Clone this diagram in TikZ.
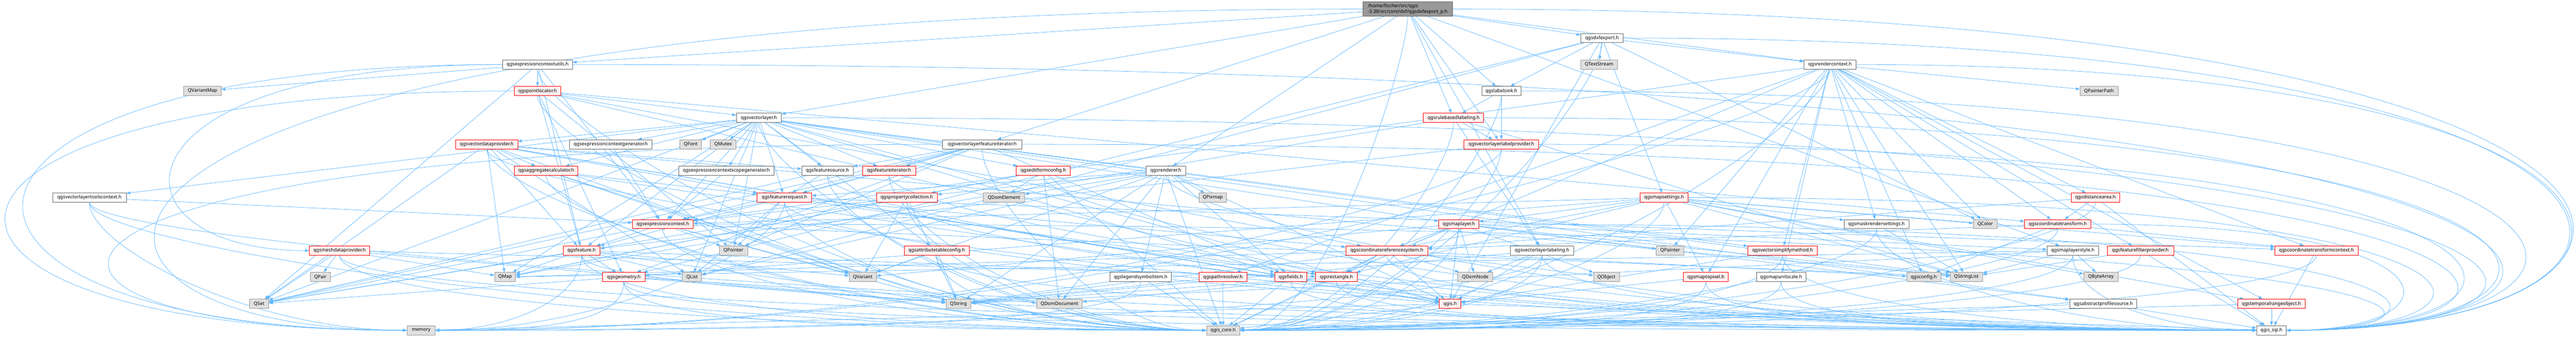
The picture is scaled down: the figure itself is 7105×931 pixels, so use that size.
\documentclass[tikz,border=0pt]{standalone}
\usepackage{fontspec}
\setmainfont{Noto Sans}
\usetikzlibrary{arrows.meta,backgrounds,calc}

\definecolor{depblue}{HTML}{63B8FF}
\definecolor{fileline}{HTML}{666666}
\definecolor{truncfill}{HTML}{FFF0F0}
\definecolor{extfill}{HTML}{E0E0E0}
\definecolor{extline}{HTML}{999999}
\definecolor{rootfill}{HTML}{999999}

\tikzset{
  hdr/.style={draw=fileline, fill=white, line width=1.1pt, minimum height=25.5pt,
    inner sep=2pt, font=\fontsize{13}{15}\selectfont},
  trunc/.style={hdr, draw=red, fill=truncfill},
  ext/.style={hdr, draw=extline, fill=extfill},
  root/.style={hdr, fill=rootfill, minimum height=40pt, align=left},
  dep/.style={draw=depblue, line width=1.1pt, -{Triangle[length=11pt,width=8pt]}},
  band/.style={to path={.. controls ([yshift=-120pt]\tikztostart.south) and ($(\tikztotarget.#1)!0.5!(\tikztotarget.#1 -| \tikztostart)$) .. (\tikztotarget.#1) \tikztonodes}},
  sweep/.style={to path={.. controls (\tikztostart -| #1,0) and (\tikztotarget -| #1,0) .. (\tikztotarget) \tikztonodes}}
}

\begin{document}
\begin{tikzpicture}[x=1pt,y=-1pt] % pixel grid of the reference
\useasboundingbox (0,0) rectangle (7105,931);

% row 0 - 2
\node[root, minimum width=247pt] (dxfp) at (3882.5,25) {/home/fischer/src/qgis\\-3.38/src/core/dxf/qgsdxfexport\_p.h};
\node[hdr, minimum width=117pt] (dxf) at (4418.5,105) {qgsdxfexport.h};
\node[hdr, minimum width=193pt] (ecu) at (1482.5,178) {qgsexpressioncontextutils.h};
\node[ext, minimum width=101pt] (qtextstream) at (4410.5,178) {QTextStream};
\node[hdr, minimum width=143pt] (rctx) at (5047.5,178) {qgsrendercontext.h};

% row 3 - 4
\node[ext, minimum width=103pt] (qvariantmap) at (558.5,251) {QVariantMap};
\node[trunc, minimum width=127pt] (ploc) at (1482.5,251) {qgspointlocator.h};
\node[hdr, minimum width=108pt] (lsink) at (4141,251) {qgslabelsink.h};
\node[ext, minimum width=105pt] (qpainterpath) at (5789.5,251) {QPainterPath};
\node[hdr, minimum width=124pt] (vl) at (2093,325) {qgsvectorlayer.h};
\node[trunc, minimum width=166pt] (rbl) at (4009,325) {qgsrulebasedlabeling.h};

% row 5
\node[trunc, minimum width=171pt] (vdp) at (1342.5,398) {qgsvectordataprovider.h};
\node[hdr, minimum width=227pt] (ecg) at (1684.5,398) {qgsexpressioncontextgenerator.h};
\node[ext, minimum width=60pt] (qfont) at (1905,398) {QFont};
\node[ext, minimum width=71pt] (qmutex) at (1994.5,398) {QMutex};
\node[hdr, minimum width=218pt] (vlfi) at (2709,398) {qgsvectorlayerfeatureiterator.h};
\node[trunc, minimum width=206pt] (vllp) at (4141,398) {qgsvectorlayerlabelprovider.h};

% row 6
\node[trunc, minimum width=175pt] (aggc) at (1506.5,471) {qgsaggregatecalculator.h};
\node[hdr, minimum width=263pt] (ecsg) at (2003.5,471) {qgsexpressioncontextscopegenerator.h};
\node[hdr, minimum width=142pt] (fsrc) at (2282,471) {qgsfeaturesource.h};
\node[trunc, minimum width=146pt] (fit) at (2452,471) {qgsfeatureiterator.h};
\node[trunc, minimum width=149pt] (efc) at (2877.5,471) {qgseditformconfig.h};
\node[hdr, minimum width=109pt] (rend) at (3215.5,471) {qgsrenderer.h};

% row 7
\node[hdr, minimum width=203pt] (vltc) at (246.5,545) {qgsvectorlayertoolscontext.h};
\node[trunc, minimum width=151pt] (freq) at (2163.5,545) {qgsfeaturerequest.h};
\node[trunc, minimum width=168pt] (pcol) at (2501,545) {qgspropertycollection.h};
\node[ext, minimum width=114pt] (qdomelement) at (2769,545) {QDomElement};
\node[ext, minimum width=76pt] (qpixmap) at (3345,545) {QPixmap};
\node[trunc, minimum width=131pt] (mset) at (4589.5,545) {qgsmapsettings.h};
\node[trunc, minimum width=133pt] (darea) at (5779.5,545) {qgsdistancearea.h};

% row 8
\node[trunc, minimum width=168pt] (ectx) at (1828,618) {qgsexpressioncontext.h};
\node[trunc, minimum width=111pt] (mlay) at (4023.5,618) {qgsmaplayer.h};
\node[hdr, minimum width=179pt] (mrs) at (5175.5,618) {qgsmaskrendersettings.h};
\node[ext, minimum width=65pt] (qcolor) at (5475.5,618) {QColor};
\node[trunc, minimum width=183pt] (ctr) at (5675.5,618) {qgscoordinatetransform.h};

% row 9
\node[trunc, minimum width=167pt] (mdp) at (936.5,691) {qgsmeshdataprovider.h};
\node[trunc, minimum width=102pt] (feat) at (1604,691) {qgsfeature.h};
\node[ext, minimum width=78pt] (qpointer) at (2023,691) {QPointer};
\node[trunc, minimum width=179pt] (atc) at (2583.5,691) {qgsattributetableconfig.h};
\node[trunc, minimum width=226pt] (crs) at (3825,691) {qgscoordinatereferencesystem.h};
\node[hdr, minimum width=174pt] (vllab) at (4253,691) {qgsvectorlayerlabeling.h};
\node[ext, minimum width=77pt] (qpainter) at (4606.5,691) {QPainter};
\node[trunc, minimum width=191pt] (vsm) at (4916.5,691) {qgsvectorsimplifymethod.h};
\node[hdr, minimum width=142pt] (mls) at (5717,691) {qgsmaplayerstyle.h};
\node[trunc, minimum width=183pt] (ffp) at (5903.5,691) {qgsfeaturefilterprovider.h};
\node[trunc, minimum width=230pt] (ctc) at (6389,691) {qgscoordinatetransformcontext.h};

% row 10
\node[ext, minimum width=55pt] (qpair) at (883.5,764) {QPair};
\node[ext, minimum width=58pt] (qmap) at (1393,764) {QMap};
\node[trunc, minimum width=117pt] (geom) at (1720.5,764) {qgsgeometry.h};
\node[ext, minimum width=53pt] (qlist) at (1908.5,764) {QList};
\node[ext, minimum width=75pt] (qvariant) at (2379.5,764) {QVariant};
\node[hdr, minimum width=170pt] (lsi) at (3146,764) {qgslegendsymbolitem.h};
\node[trunc, minimum width=132pt] (pres) at (3373,764) {qgspathresolver.h};
\node[trunc, minimum width=88pt] (fields) at (3560,764) {qgsfields.h};
\node[trunc, minimum width=114pt] (rect) at (3686,764) {qgsrectangle.h};
\node[ext, minimum width=96pt] (qdomnode) at (4069,764) {QDomNode};
\node[ext, minimum width=71pt] (qobject) at (4430.5,764) {QObject};
\node[trunc, minimum width=124pt] (m2p) at (4705,764) {qgsmaptopixel.h};
\node[hdr, minimum width=137pt] (mus) at (4912.5,764) {qgsmapunitscale.h};
\node[ext, minimum width=94pt] (qgsconfig) at (5306,764) {qgsconfig.h};
\node[ext, minimum width=89pt] (qstringlist) at (5423.5,764) {QStringList};
\node[ext, minimum width=95pt] (qbytearray) at (5794.5,764) {QByteArray};

% row 11 - 12
\node[ext, minimum width=53pt] (qset) at (714.5,838) {QSet};
\node[ext, minimum width=69pt] (qstring) at (2643.5,838) {QString};
\node[ext, minimum width=126pt] (qdomdocument) at (2922,838) {QDomDocument};
\node[trunc, minimum width=59pt] (qgish) at (3999.5,838) {qgis.h};
\node[hdr, minimum width=186pt] (aps) at (5801,838) {qgsabstractprofilesource.h};
\node[trunc, minimum width=186pt] (tro) at (6265,838) {qgstemporalrangeobject.h};
\node[ext, minimum width=77pt] (memory) at (1161.5,911) {memory};
\node[ext, minimum width=91pt] (qgiscore) at (3373.5,911) {qgis\_core.h};
\node[hdr, minimum width=82pt] (qgissip) at (6265,911) {qgis\_sip.h};

\begin{pgfonlayer}{background}
\begin{scope}[every edge/.style=dep]
\path (dxfp) edge (dxf) edge (ecu) edge (rctx) edge (rend) edge (vl) edge (vlfi) edge (vllab)
  edge (vllp) edge (lsink) edge (rbl) edge (mls) edge[sweep=-60] (memory) edge[sweep=7600] (qgissip)
  edge[band=east] (qgiscore);
\path (dxf) edge (qtextstream) edge (lsink) edge (mset) edge (qgish) edge (geom) edge (rctx)
  edge (qcolor) edge[band=east] (qgiscore) edge[sweep=7550] (qgissip) edge (qlist);
\path (ecu) edge (qvariantmap) edge (ploc) edge[sweep=274] (mdp) edge (ectx) edge (feat) edge (qset)
  edge[band=west] (qgiscore) edge[sweep=7450] (qgissip) edge[sweep=-330] (memory);
\path (rctx) edge (qcolor) edge (qpainter) edge (qpainterpath) edge[band=east] (memory) edge (ctr) edge (ectx)
  edge (ffp) edge (m2p) edge (mus) edge (rect) edge (vsm) edge (darea) edge (ctc) edge (pres)
  edge (tro) edge (mrs) edge (qstringlist) edge (qgsconfig) edge[band=east] (qgiscore) edge[sweep=7500] (qgissip);
\path (ploc) edge (qpointer) edge (vl) edge (feat) edge (geom) edge (crs) edge (ctr) edge (rect)
  edge[band=west] (qgiscore) edge[sweep=-400] (memory);
\path (lsink) edge (rbl) edge (vllp) edge[band=east] (qgiscore) edge[sweep=7400] (qgissip);
\path (rbl) edge (vllp) edge (vllab) edge[band=east] (qgiscore) edge[sweep=7300] (qgissip) edge (qstringlist) edge (qmap);
\path (vl) edge[band=west] (qgiscore) edge[sweep=7350] (qgissip) edge (qmap) edge (qset) edge (qlist) edge (qstringlist)
  edge (qfont) edge (qmutex) edge (qgish) edge (mlay) edge (feat) edge (freq) edge (fsrc)
  edge (fields) edge (vdp) edge (vsm) edge (efc) edge (atc) edge (aggc) edge (fit) edge (ecg)
  edge (ecsg) edge (ectx) edge (vltc) edge (aps) edge (qpointer);
\path (vdp) edge (qmap) edge (qset) edge (qlist) edge (aggc) edge (freq) edge (fsrc) edge (feat)
  edge (fields) edge[band=west] (qgiscore) edge[band=west] (qgissip) edge (qstringlist) edge (qvariant) edge (qgish);
\path (ecg) edge (ectx);
\path (ecsg) edge (ectx);
\path (vlfi) edge (fit) edge (fsrc) edge (fields) edge (ectx) edge (freq) edge (geom)
  edge[band=west] (qgiscore) edge[sweep=7200] (qgissip) edge (qset) edge (qpointer) edge[sweep=-150] (memory);
\path (vllp) edge[band=east] (qgiscore) edge[sweep=7150] (qgissip) edge (feat) edge[band=east] (memory);
\path (aggc) edge[band=west] (qgiscore) edge (freq) edge (qvariant) edge (qstring) edge (qgish);
\path (fsrc) edge (freq) edge[band=west] (qgiscore) edge[band=west] (qgissip) edge (qset);
\path (fit) edge (freq) edge[band=west] (qgiscore) edge[band=west] (qgissip);
\path (efc) edge (pcol) edge (qdomelement) edge (qdomdocument) edge (qmap) edge (qgiscore) edge[band=west] (qgissip);
\path (rend) edge (qgiscore) edge[band=west] (qgissip) edge (qstring) edge (qdomdocument) edge (lsi) edge (fields)
  edge (qpixmap) edge (pcol) edge (freq) edge (qlist) edge (qvariant) edge (qdomelement) edge (qgish);
\path (vltc) edge[band=west] (memory) edge[band=west] (qgiscore) edge[band=west] (qgissip) edge (ectx);
\path (freq) edge (qpointer) edge (qlist) edge (feat) edge (rect) edge (ectx) edge (ctc) edge (crs)
  edge[band=east] (memory) edge[band=west] (qgiscore) edge[band=west] (qgissip);
\path (pcol) edge (qstring) edge (qset) edge (ectx) edge (qvariant) edge[band=west] (qgiscore) edge[band=west] (qgissip) edge (qmap);
\path (mset) edge (mlay) edge (crs) edge (m2p) edge (rect) edge (ctc) edge (tro) edge (mrs) edge (qcolor)
  edge (qstringlist) edge (qbytearray) edge[band=east] (qgiscore) edge[sweep=7000] (qgissip) edge (ectx) edge (geom);
\path (darea) edge (ctr) edge (crs) edge[band=east] (qgiscore) edge (qgissip);
\path (ectx) edge (feat) edge (qpointer) edge (qset) edge (qstringlist) edge (qvariant) edge (qstring)
  edge[band=west] (qgiscore) edge[sweep=6900] (qgissip);
\path (mlay) edge (qdomnode) edge (qobject) edge (qpainter) edge (qgish) edge (rect) edge (crs)
  edge (mls) edge (aps) edge[band=east] (qgiscore) edge[sweep=6850] (qgissip) edge (qvariant) edge (qstringlist);
\path (mrs) edge[band=east] (qgiscore) edge[band=west] (qgissip) edge (qstringlist);
\path (ctr) edge (crs) edge (ctc) edge (qgsconfig) edge[band=east] (qgiscore) edge[sweep=6800] (qgissip);
\path (mdp) edge (qpair) edge (qset) edge[band=west] (qgiscore) edge[band=west] (qgissip) edge (qstring) edge (qmap) edge (rect);
\path (feat) edge (qmap) edge (qlist) edge (qset) edge (qvariant) edge (geom) edge (fields)
  edge[band=west] (qgiscore) edge[band=west] (qgissip) edge (qstring) edge[band=east] (memory);
\path (atc) edge (qvariant) edge (qstring) edge[band=west] (qgiscore) edge[band=west] (qgissip);
\path (crs) edge (rect) edge (qgish) edge (qmap) edge (qstring) edge (qgiscore) edge[band=west] (qgissip)
  edge (qgsconfig) edge (qdomnode) edge (qobject);
\path (vllab) edge (qdomnode) edge (qgish) edge[band=east] (qgiscore) edge[band=west] (qgissip) edge[band=east] (memory) edge (qstring);
\path (vsm) edge[band=east] (qgiscore) edge[band=west] (qgissip) edge (qgish);
\path (mls) edge (qbytearray) edge (qstringlist) edge (qmap) edge (qstring) edge[band=east] (qgiscore) edge[band=west] (qgissip);
\path (ffp) edge (qstringlist) edge[band=east] (qgiscore) edge (qgissip);
\path (ctc) edge[band=east] (qgiscore) edge (qgissip);
\path (geom) edge[band=east] (memory) edge (qdomdocument) edge (qset) edge (qstring) edge[band=west] (qgiscore) edge[band=west] (qgissip);
\path (lsi) edge (qstring) edge (qgiscore) edge (qgish) edge[band=east] (memory);
\path (pres) edge (qgiscore) edge (qstring);
\path (fields) edge (qgiscore) edge[band=west] (qgissip);
\path (rect) edge (qgiscore) edge[band=west] (qgissip) edge (qdomdocument) edge (qgish) edge (qstring);
\path (m2p) edge[band=east] (qgiscore) edge[band=west] (qgissip) edge (qgish);
\path (mus) edge[band=east] (qgiscore) edge[band=west] (qgissip);
\path (qgish) edge (qgiscore) edge (qgissip) edge (memory);
\path (aps) edge (qgiscore) edge (qgissip);
\path (tro) edge (qgiscore) edge (qgissip);
\end{scope}
\end{pgfonlayer}
\end{tikzpicture}
\end{document}
